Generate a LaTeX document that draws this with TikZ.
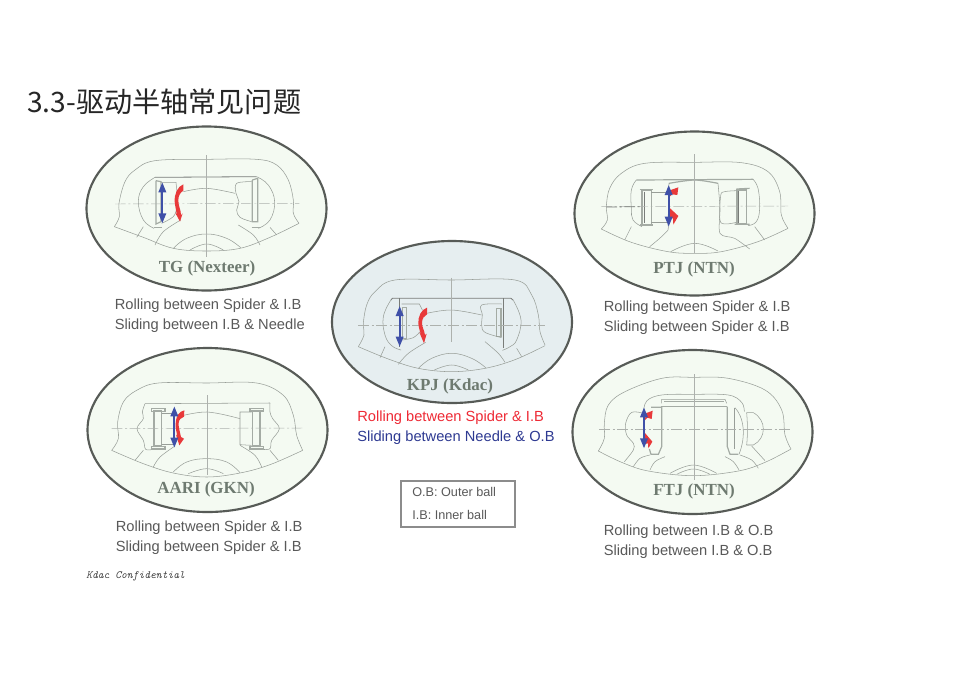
\documentclass[tikz,border=0pt]{standalone}
\usepackage{fontspec}
\usetikzlibrary{arrows.meta}
\setmainfont{Liberation Sans}
\newfontfamily\cjkfont{Noto Sans CJK SC}
\newfontfamily\serifbold[BoldFont={Liberation Serif Bold}]{Liberation Serif}
\newfontfamily\confont{Latin Modern Mono}
\definecolor{txtgrey}{HTML}{595959}
\definecolor{ttlgrey}{HTML}{6E7A70}
\definecolor{ringgrey}{HTML}{575B57}
\definecolor{paleg}{HTML}{F4FAF2}
\definecolor{paleb}{HTML}{E6EEF0}
\definecolor{linegrey}{HTML}{989E98}
\definecolor{thickgrey}{HTML}{A4ABA4}
\definecolor{arrblue}{HTML}{3F50A8}
\definecolor{arrred}{HTML}{E8393A}
\definecolor{legred}{HTML}{EE2A35}
\definecolor{legblue}{HTML}{2E3A92}
\tikzset{
  ring/.style={draw=ringgrey,line width=1.6pt},
  ln/.style={draw=linegrey,line width=.4pt},
  dk/.style={draw=ringgrey!80,line width=.6pt},
  thk/.style={draw=thickgrey,line width=.9pt},
  cl/.style={draw=linegrey!80,line width=.35pt},
  cd/.style={draw=linegrey!80,line width=.35pt,dash pattern=on 8pt off 2pt on 1.5pt off 2pt},
  bluearr/.style={draw=arrblue,line width=1.5pt,{Triangle[length=7.5pt,width=5.6pt]}-{Triangle[length=7.5pt,width=5.6pt]}},
  redfill/.style={fill=arrred},
  lab/.style={font=\fontsize{11pt}{13pt}\selectfont,text=txtgrey,anchor=base west,inner sep=0pt},
  ttl/.style={font=\serifbold\bfseries\fontsize{12.7pt}{14pt}\selectfont,text=ttlgrey,inner sep=0pt},
  leg/.style={font=\fontsize{9.5pt}{11pt}\selectfont,text=txtgrey,anchor=base west,inner sep=0pt}
}
\begin{document}
\begin{tikzpicture}[x=.75pt,y=-.75pt]
\useasboundingbox (0,0) rectangle (955,675);
\fill[white] (0,0) rectangle (955,675);
\node[anchor=base west,inner sep=0pt,text=black!85] (title) at (27,112) {\cjkfont\fontsize{21.1pt}{24pt}\selectfont 3.3-驱动半轴常见问题};

% ellipses
\draw[ring,fill=paleg] (206.5,208.5) ellipse [x radius=120,y radius=82];
\draw[ring,fill=paleb] (452,322) ellipse [x radius=120,y radius=81];
\draw[ring,fill=paleg] (694.5,213.5) ellipse [x radius=120,y radius=82];
\draw[ring,fill=paleg] (207.5,430) ellipse [x radius=120,y radius=82];
\draw[ring,fill=paleg] (692.5,432) ellipse [x radius=120,y radius=82];

% TG
\begin{scope}[shift={(80,120)},x=.25pt,y=-.25pt]
\draw[ln] plot[smooth,tension=.6] coordinates {(103,320)(118,290)(117,250)(135,185)(165,150)(225,122)(380,118)(530,118)(590,135)(625,180)(640,240)(640,280)(657,310)};
\draw[ln] plot[smooth,tension=.6] coordinates {(103,320)(190,352)(280,385)(380,393)(480,385)(570,352)(657,310)};
\draw[dk] (225,172)--(530,170);
\draw[ln] plot[smooth,tension=.7] coordinates {(225,172)(190,200)(175,245)(190,300)(222,325)};
\draw[ln] plot[smooth,tension=.7] coordinates {(530,170)(565,195)(584,245)(570,300)(535,325)};
\draw[thk] (228,182)--(243,185)--(243,305)--(228,312)--(228,182);
\draw[thk] (222,322)--(245,322);
\draw[thk] (517,180)--(533,175)--(533,305)--(517,305)--(517,180);
\draw[thk] (515,322)--(540,322);
\draw[ln] (243,187)--(288,187)--(292,225);
\draw[ln] plot[smooth,tension=.6] coordinates {(310,215)(380,205)(465,220)};
\draw[ln] plot[smooth,tension=.6] coordinates {(515,185)(470,190)(468,220)(477,245)(470,270)(480,292)(515,305)};
\draw[ln] plot[smooth,tension=.6] coordinates {(245,310)(280,290)(290,265)};
\draw[ln] plot[smooth,tension=.6] coordinates {(302,300)(250,335)(225,375)};
\draw[ln] plot[smooth,tension=.6] coordinates {(475,315)(520,345)(540,375)};
\draw[ln] (190,320)--(170,352) (570,322)--(590,345);
\draw[ln] plot[smooth,tension=.7] coordinates {(280,385)(320,355)(380,342)(440,355)(482,383)};
\draw[ln] plot[smooth,tension=.7] coordinates {(330,390)(380,372)(430,390)};
\draw[cl] (380,105)--(380,410);
\draw[cd] (105,252)--(658,250);
\draw[bluearr] (247,187)--(247,310);
\fill[redfill] (310,193) .. controls (292,200) and (283,222) .. (284,245) .. controls (285,260) and (290,272) .. (289,285) -- (286,278) -- (300,305) -- (308,280) -- (303,285) .. controls (303,270) and (294,255) .. (295,240) .. controls (295,228) and (300,218) .. (310,212) -- cycle;
\end{scope}

% KPJ
\begin{scope}[shift={(325,235)},x=.25pt,y=-.25pt]
\draw[ln] plot[smooth,tension=.6] coordinates {(100,335)(117,300)(115,265)(125,210)(150,170)(210,135)(380,135)(570,135)(620,180)(640,240)(645,290)(660,330)};
\draw[ln] plot[smooth,tension=.6] coordinates {(100,335)(190,372)(280,400)(380,410)(480,400)(570,374)(660,332)};
\draw[dk] (197,196)--(202,190)--(558,190)--(565,196);
\draw[dk] (222,190)--(222,335) (535,190)--(535,338);
\draw[ln] plot[smooth,tension=.7] coordinates {(197,196)(175,245)(180,300)(200,332)(228,345)};
\draw[ln] plot[smooth,tension=.7] coordinates {(565,196)(588,255)(575,315)(555,335)(532,346)};
\draw[thk] (232,217)--(245,217)--(245,310)--(232,310)--cycle;
\draw[thk] (515,220)--(528,220)--(528,305)--(515,305)--cycle;
\draw[ln] (230,207)--(283,207)--(292,225);
\draw[ln] plot[smooth,tension=.6] coordinates {(305,235)(380,225)(470,240)};
\draw[ln] plot[smooth,tension=.6] coordinates {(530,207)(470,210)(472,240)(470,270)(480,292)(530,308)};
\draw[ln] plot[smooth,tension=.6] coordinates {(232,315)(265,308)(285,290)};
\draw[ln] plot[smooth,tension=.6] coordinates {(302,322)(250,355)(220,388)};
\draw[ln] plot[smooth,tension=.6] coordinates {(480,320)(520,355)(540,382)};
\draw[ln] (180,335)--(165,368) (575,340)--(590,365);
\draw[ln] plot[smooth,tension=.7] coordinates {(280,400)(320,370)(380,355)(440,370)(482,398)};
\draw[ln] plot[smooth,tension=.7] coordinates {(328,405)(380,390)(430,405)};
\draw[cl] (380,128)--(380,320);
\draw[cd] (100,272)--(660,272);
\draw[bluearr] (224,213)--(224,335);
\fill[redfill] (306,218) .. controls (288,224) and (279,245) .. (280,265) .. controls (281,280) and (286,290) .. (287,298) -- (283,292) -- (297,325) -- (305,296) -- (300,300) .. controls (298,285) and (290,275) .. (291,262) .. controls (292,250) and (297,243) .. (306,238) -- cycle;
\end{scope}

% PTJ
\begin{scope}[shift={(568,125)},x=.25pt,y=-.25pt]
\draw[ln] plot[smooth,tension=.6] coordinates {(100,312)(118,285)(115,245)(125,190)(160,145)(230,115)(380,112)(520,113)(600,140)(635,200)(640,270)(660,310)};
\draw[ln] plot[smooth,tension=.6] coordinates {(100,312)(190,352)(300,380)(380,385)(460,380)(570,350)(660,310)};
\draw[thk] (205,165)--(555,163);
\draw[ln] plot[smooth,tension=.7] coordinates {(205,165)(190,195)(190,250)(195,285)(222,305)};
\draw[ln] plot[smooth,tension=.7] coordinates {(555,163)(570,190)(575,250)(565,290)(540,302)};
\draw[thk] (222,197)--(250,197)--(250,298)--(222,298)--cycle;
\draw[thk] (215,193)--(255,193) (215,300)--(255,300);
\draw[thk] (507,195)--(535,195)--(535,297)--(507,297)--cycle;
\draw[thk] (505,192)--(545,190) (500,298)--(545,298);
\draw[dk] (228,200)--(228,295) (512,198)--(512,295);
\draw[ln] (250,202)--(300,202) (250,292)--(300,292);
\draw[ln] plot[smooth,tension=.5] coordinates {(505,197)(470,200)(458,212)(458,292)(505,292)};
\draw[thk] plot[smooth,tension=.5] coordinates {(303,175)(380,165)(450,175)};
\draw[ln] (303,175)--(300,300);
\draw[ln] plot[smooth,tension=.5] coordinates {(300,300)(300,315)(275,340)(245,365)};
\draw[ln] plot[smooth,tension=.5] coordinates {(450,175)(456,250)(456,325)(500,340)(545,372)};
\draw[ln] (190,305)--(170,345) (560,305)--(590,345);
\draw[ln] plot[smooth,tension=.7] coordinates {(308,380)(380,355)(450,378)};
\draw[cl] (380,88)--(380,385);
\draw[cd] (100,245)--(660,243);
\draw[dk,dash pattern=on 8pt off 2pt on 1.5pt off 2pt] (115,246)--(222,245);
\fill[redfill] (331,187) -- (308,195) -- (305,215) -- (312,208) -- (328,210) -- cycle;
\fill[redfill] (304,248) -- (331,273) -- (316,299) -- (315,280) -- (304,282) -- cycle;
\draw[bluearr] (302,180)--(302,305);
\end{scope}

% AARI
\begin{scope}[shift={(80,342)},x=.25pt,y=-.25pt]
\draw[ln] plot[smooth,tension=.6] coordinates {(95,325)(115,290)(113,240)(130,180)(170,145)(235,123)(380,123)(530,123)(610,160)(640,220)(650,280)(668,325)};
\draw[ln] plot[smooth,tension=.6] coordinates {(95,325)(190,365)(280,393)(380,405)(480,393)(570,368)(668,325)};
\draw[ln] (195,185)--(570,183);
\draw[ln] plot[smooth,tension=.6] coordinates {(195,185)(187,210)(190,230)(171,260)(190,295)(197,322)(218,322)};
\draw[ln] plot[smooth,tension=.6] coordinates {(570,183)(570,210)(578,230)(598,260)(575,295)(570,320)(548,322)};
\draw[thk] (222,207)--(245,207)--(245,312)--(222,312)--cycle;
\draw[thk] (215,200)rectangle(255,208) (215,313)rectangle(255,321);
\draw[thk] (518,207)--(540,207)--(540,312)--(518,312)--cycle;
\draw[thk] (510,199)rectangle(550,207) (510,313)rectangle(550,321);
\draw[ln] (245,215)--(285,215) (245,308)--(285,308);
\draw[ln] plot[smooth,tension=.6] coordinates {(290,225)(380,210)(480,230)};
\draw[ln] (515,210)--(480,210)--(480,308)--(515,310);
\draw[ln] plot[smooth,tension=.6] coordinates {(285,312)(240,345)(220,375)};
\draw[ln] plot[smooth,tension=.6] coordinates {(480,310)(525,340)(545,375)};
\draw[ln] (190,325)--(165,355) (570,325)--(595,355);
\draw[ln] plot[smooth,tension=.7] coordinates {(280,390)(320,360)(380,350)(440,360)(480,392)};
\draw[ln] plot[smooth,tension=.7] coordinates {(325,395)(380,380)(430,395)};
\draw[cl] (382,160)--(382,400);
\draw[cd] (95,260)--(668,258);
\fill[redfill] (313,205) .. controls (297,208) and (288,222) .. (287,245) .. controls (286,262) and (291,272) .. (291,282) -- (288,278) -- (298,310) -- (312,290) -- (303,285) .. controls (300,270) and (295,255) .. (296,243) .. controls (297,232) and (303,228) .. (312,224) -- cycle;
\draw[bluearr] (283,193)--(283,317);
\end{scope}

% FTJ
\begin{scope}[shift={(565,345)},x=.25pt,y=-.25pt]
\draw[ln] plot[smooth,tension=.6] coordinates {(100,318)(118,280)(118,235)(130,180)(180,140)(290,100)(385,97)(490,100)(600,135)(650,195)(660,270)(678,312)};
\draw[ln] plot[smooth,tension=.6] coordinates {(100,318)(170,352)(250,378)(385,392)(520,378)(600,352)(678,312)};
\draw[ln] plot[smooth,tension=.6] coordinates {(235,205)(200,202)(182,235)(185,270)(205,295)(205,315)(178,350)};
\draw[ln] plot[smooth,tension=.6] coordinates {(235,205)(245,168)(290,150)(385,148)(490,150)(530,172)(538,200)};
\draw[ln] (545,203)--(565,203) .. controls (605,225) and (605,280) .. (565,300) -- (545,300);
\draw[ln] (545,203) .. controls (548,240) and (548,270) .. (545,300);
\draw[ln] (290,175)--(290,163)--(480,163)--(485,175);
\draw[thk] (298,170)--(478,170);
\draw[thk] (288,185)--(487,185);
\draw[thk] (258,187)--(290,187)--(290,305)--(280,328)--(258,328)--(253,312);
\draw[thk] (487,185)--(487,305)--(495,328)--(520,328);
\draw[ln] (509,188)--(509,312);
\draw[ln] (510,188) .. controls (535,215) and (545,270) .. (522,328);
\draw[ln] plot[smooth,tension=.6] coordinates {(255,330)(225,340)(205,365)};
\draw[ln] plot[smooth,tension=.6] coordinates {(300,335)(270,350)(255,375)};
\draw[ln] plot[smooth,tension=.6] coordinates {(480,335)(505,350)(522,375)};
\draw[ln] plot[smooth,tension=.6] coordinates {(525,330)(560,345)(580,370)};
\draw[ln] (560,303)--(600,347);
\draw[ln] plot[smooth,tension=.7] coordinates {(315,385)(385,360)(455,385)};
\draw[ln] plot[smooth,tension=.7] coordinates {(335,388)(385,372)(435,388)};
\draw[cl] (388,88)--(388,405);
\draw[cd] (103,253)--(678,253);
\fill[redfill] (263,197) -- (242,205) -- (240,225) -- (247,218) -- (260,222) -- cycle;
\fill[redfill] (240,264) -- (262,290) -- (250,310) -- (249,295) -- (240,297) -- cycle;
\draw[bluearr] (237,187)--(237,310);
\end{scope}

% ellipse titles
\node[ttl] (tgttl) at (207,268) {TG (Nexteer)};
\node[ttl] (kpjttl) at (450,386) {KPJ (Kdac)};
\node[ttl] (ptjttl) at (694,269) {PTJ (NTN)};
\node[ttl] (aarittl) at (206,489) {AARI (GKN)};
\node[ttl] (ftjttl) at (694,491) {FTJ (NTN)};

% captions
\node[lab] (tg1) at (114.5,309) {Rolling between Spider \& I.B};
\node[lab] (tg2) at (114.5,329) {Sliding between I.B \& Needle};
\node[lab,text=legred] (kp1) at (357,421) {Rolling between Spider \& I.B};
\node[lab,text=legblue] (kp2) at (357,441) {Sliding between Needle \& O.B};
\node[lab] (pt1) at (603.5,311) {Rolling between Spider \& I.B};
\node[lab] (pt2) at (603.5,331) {Sliding between Spider \& I.B};
\node[lab] (aa1) at (115.5,531) {Rolling between Spider \& I.B};
\node[lab] (aa2) at (115.5,551) {Sliding between Spider \& I.B};
\node[lab] (ft1) at (603.5,535) {Rolling between I.B \& O.B};
\node[lab] (ft2) at (603.5,555) {Sliding between I.B \& O.B};

% legend
\draw[draw=black!45,line width=1pt] (401,481) rectangle (515,527);
\node[leg] (ob) at (412,496) {O.B: Outer ball};
\node[leg] (ib) at (412,519) {I.B: Inner ball};

\node[anchor=base west,inner sep=0pt,text=black!75] (conf) at (86,578) {\confont\itshape\fontsize{8.3pt}{10pt}\selectfont Kdac Confidential};
\end{tikzpicture}
\end{document}
